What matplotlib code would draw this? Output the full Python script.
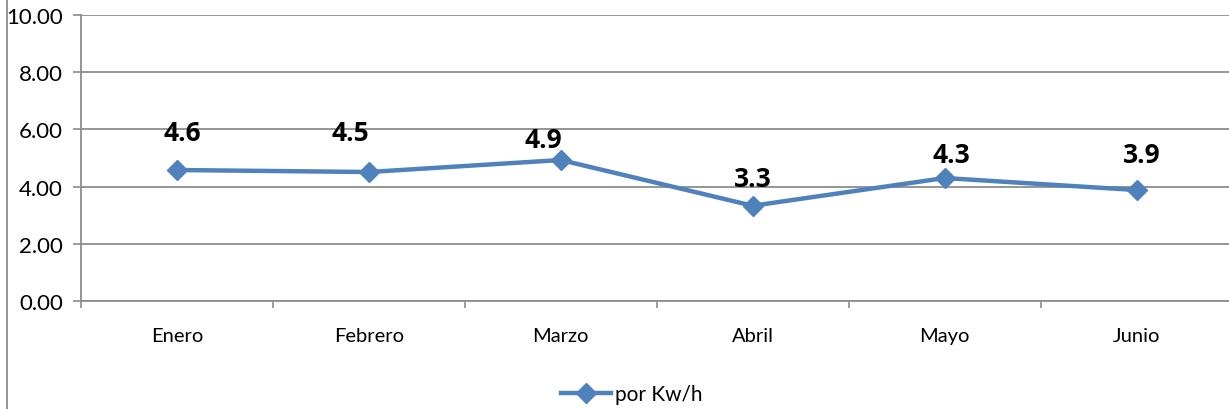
import matplotlib
matplotlib.use("Agg")
import matplotlib.pyplot as plt
from matplotlib.lines import Line2D
from matplotlib.ticker import FixedLocator, FuncFormatter

months = ["Enero", "Febrero", "Marzo", "Abril", "Mayo", "Junio"]
values = [4.58, 4.51, 4.93, 3.33, 4.30, 3.88]
labels = ["4.6", "4.5", "4.9", "3.3", "4.3", "3.9"]
series_name = "por Kw/h"
yticks = [0, 2, 4, 6, 8, 10]

# label offsets in pixels (dx, dy) relative to marker
label_offsets = [(5, 38), (-18, 40), (-17, 21), (0, 27), (7, 24), (5, 36)]

plt.rcParams['font.family'] = ['Lato', 'DejaVu Sans']

W, H = 1229, 410
fig = plt.figure(figsize=(W / 100, H / 100), dpi=100)
left, right, top, bottom = 81, 1229, 16, 302
ax = fig.add_axes([left / W, 1 - bottom / H, (right - left) / W, (bottom - top) / H])

blue = "#4F81BD"
grid = "#8C8C8C"

x = list(range(len(months)))
line, = ax.plot(x, values, color=blue, lw=3.2, marker="D", markersize=10,
                markerfacecolor=blue, markeredgecolor=blue, label=series_name,
                solid_joinstyle="round", zorder=3)

for xi, v, lab, (dx, dy) in zip(x, values, labels, label_offsets):
    ax.annotate(lab, (xi, v), xytext=(dx * 0.72, dy * 0.72), textcoords="offset points",
                ha="center", va="center", fontsize=19, fontweight="bold", color="black",
                family=["Open Sans", "DejaVu Sans"])

spacing = 1151.5 / 6
ax.set_xlim(-0.5, -0.5 + (right - left) / spacing)
ax.set_ylim(0, 10)
ax.set_yticks(yticks)
ax.yaxis.set_major_formatter(FuncFormatter(lambda v, p: f"{v:.2f}"))
ax.set_xticks(x)
ax.set_xticklabels(months)
ax.xaxis.set_minor_locator(FixedLocator([i - 0.5 for i in range(len(months) + 1)]))
ax.tick_params(axis="x", which="major", length=0, pad=19, labelsize=14.5)
ax.tick_params(axis="x", which="minor", length=5, width=1.2, color=grid, direction="out")
ax.tick_params(axis="y", length=6, width=1.2, color=grid, labelsize=16, pad=7)

ax.grid(axis="y", color=grid, lw=1.3)
ax.set_axisbelow(True)
for s in ["top", "right"]:
    ax.spines[s].set_visible(False)
ax.spines["left"].set_color(grid)
ax.spines["left"].set_linewidth(1.3)
ax.spines["bottom"].set_color(grid)
ax.spines["bottom"].set_linewidth(1.3)

# chart frame left edge
fig.add_artist(Line2D([7 / W, 7 / W], [0, 1], color="#8C8C8C", lw=1.3))

leg = fig.legend(handles=[line], loc="center", bbox_to_anchor=(632 / W, 1 - 395 / H),
                 frameon=False, fontsize=15, handlelength=2.4, handletextpad=0.2)

fig.savefig("out.png", dpi=100)
